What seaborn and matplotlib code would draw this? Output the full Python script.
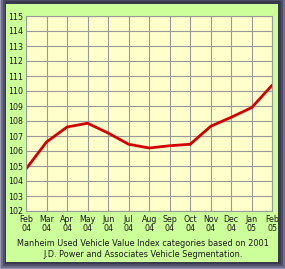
import matplotlib
matplotlib.use("Agg")
import matplotlib.pyplot as plt
from matplotlib.patches import Rectangle
import pandas as pd
import seaborn as sns

months = ['Feb\n04', 'Mar\n04', 'Apr\n04', 'May\n04', 'Jun\n04', 'Jul\n04', 'Aug\n04',
          'Sep\n04', 'Oct\n04', 'Nov\n04', 'Dec\n04', 'Jan\n05', 'Feb\n05']
index_vals = [104.8, 106.6, 107.6, 107.85, 107.2, 106.45, 106.2,
              106.35, 106.45, 107.65, 108.25, 108.9, 110.4]
y_ticks = list(range(102, 116))
caption = ("Manheim Used Vehicle Value Index categories based on 2001\n"
           "J.D. Power and Associates Vehicle Segmentation.")

df = pd.DataFrame({'pos': range(len(months)), 'value': index_vals})

sns.set_style("white")
plt.rcParams['font.family'] = ['DejaVu Sans']

W, H = 285, 269
fig = plt.figure(figsize=(W / 100, H / 100), dpi=100)
fig.patch.set_facecolor('#7a7a96')

# bevelled frame, drawn under the axes
def px_rect(x0, y0, x1, y1, color):
    fig.patches.append(Rectangle((x0 / W, 1 - y1 / H), (x1 - x0) / W, (y1 - y0) / H,
                                 transform=fig.transFigure, facecolor=color,
                                 edgecolor='none', zorder=-10))

px_rect(0, 0, W, H, '#9a9ab0')
px_rect(1, 0, W, H - 1, '#6e6e8c')
px_rect(3, 0, W - 2, H - 3, '#4e4e66')
px_rect(5, 1, W - 4, H - 5, '#3a3a4e')
px_rect(6, 4, W - 7, H - 7, '#ccff99')

ax = fig.add_axes([26 / W, 58 / H, 246.3 / W, 195 / H])
ax.set_zorder(1)
ax.set_facecolor('#ffffcc')
sns.lineplot(data=df, x='pos', y='value', ax=ax, color='#d40000', linewidth=2.0)

ax.set_xlim(0, len(months) - 1)
ax.set_ylim(102, 115)
ax.set_xticks(range(len(months)))
ax.set_xticklabels(months, fontsize=5.7, linespacing=0.95, color='#1a1a1a')
ax.set_yticks(y_ticks)
ax.set_yticklabels([str(v) for v in y_ticks], fontsize=5.7, color='#1a1a1a')
ax.tick_params(axis='both', length=0)
ax.tick_params(axis='y', pad=2)
ax.tick_params(axis='x', pad=3)
ax.grid(True, color='#999999', linewidth=0.8)
ax.set_axisbelow(True)
for sp in ax.spines.values():
    sp.set_color('#999999')
    sp.set_linewidth(0.8)
ax.set_xlabel('')
ax.set_ylabel('')

fig.text(143 / W, 1 - 249 / H, caption, ha='center', va='center',
         fontsize=5.85, linespacing=1.25, color='#1a1a1a')

fig.savefig('out.png', dpi=100)
